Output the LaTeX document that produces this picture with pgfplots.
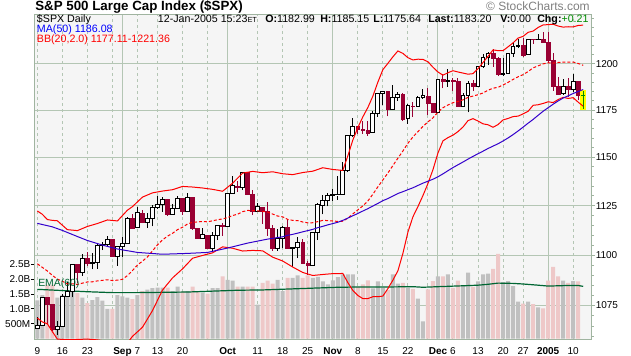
\documentclass[border=0pt]{standalone}
\usepackage{fontspec}
\setmainfont{Liberation Sans}
\usepackage{pgfplots}
\usepackage{pgfplotstable}
\pgfplotsset{compat=1.18}
\definecolor{bgcol}{RGB}{245,245,245}
\definecolor{gridcol}{RGB}{180,198,180}
\definecolor{framecol}{RGB}{160,180,160}
\definecolor{candledn}{RGB}{153,0,51}
\definecolor{bbred}{RGB}{255,0,0}
\definecolor{macol}{RGB}{51,0,204}
\definecolor{emacol}{RGB}{0,102,51}
\definecolor{volgray}{RGB}{192,192,192}
\definecolor{volpink}{RGB}{238,200,200}
\definecolor{lastgreen}{RGB}{0,140,0}
\definecolor{hilite}{RGB}{255,255,0}

\pgfplotstableread{
i O H L C
0 1063.97 1069.46 1063.97 1065.22
1 1065.22 1079.04 1065.22 1079.04
2 1079.04 1079.04 1065.92 1075.79
3 1075.79 1075.79 1062.82 1063.23
4 1063.23 1067.58 1060.72 1064.80
5 1064.80 1080.66 1064.80 1079.34
6 1079.34 1086.78 1079.34 1081.71
7 1081.71 1095.17 1078.93 1095.17
8 1095.17 1095.17 1086.28 1091.23
9 1091.23 1100.26 1089.57 1098.35
10 1098.35 1101.40 1094.73 1095.68
11 1095.68 1100.94 1092.82 1096.19
12 1096.19 1106.29 1093.24 1104.96
13 1104.96 1106.78 1102.46 1105.09
14 1105.09 1109.68 1104.62 1107.77
15 1107.77 1107.77 1099.15 1099.15
16 1099.15 1104.24 1094.72 1104.24
17 1104.24 1109.24 1099.18 1105.91
18 1105.91 1119.11 1105.60 1118.31
19 1118.31 1120.80 1113.57 1113.63
20 1113.63 1124.08 1113.63 1121.30
21 1121.30 1123.05 1116.11 1116.27
22 1116.27 1121.30 1113.62 1118.38
23 1118.38 1125.26 1114.39 1123.92
24 1123.92 1129.78 1123.35 1125.82
25 1125.82 1129.46 1121.81 1128.33
26 1128.33 1128.33 1119.82 1120.37
27 1120.37 1126.06 1120.37 1123.50
28 1123.50 1130.14 1123.50 1128.55
29 1128.55 1128.55 1120.34 1122.20
30 1122.20 1131.54 1122.20 1129.30
31 1129.30 1129.30 1112.67 1113.56
32 1113.56 1113.61 1108.05 1108.36
33 1108.36 1113.81 1108.36 1110.11
34 1110.11 1110.11 1103.24 1103.52
35 1103.52 1111.77 1101.29 1110.06
36 1110.06 1114.80 1107.42 1114.80
37 1114.80 1116.31 1109.68 1114.58
38 1114.58 1131.64 1114.58 1131.50
39 1131.50 1140.13 1131.50 1135.17
40 1135.17 1137.87 1132.03 1134.48
41 1134.48 1142.05 1132.94 1142.05
42 1142.05 1142.05 1130.50 1130.65
43 1130.65 1132.92 1120.19 1122.14
44 1122.14 1126.20 1122.14 1124.39
45 1124.39 1124.39 1115.77 1121.84
46 1121.84 1127.01 1109.63 1113.65
47 1113.65 1114.96 1102.06 1103.29
48 1103.29 1113.17 1102.14 1108.20
49 1108.20 1114.46 1103.33 1114.02
50 1114.02 1117.96 1103.15 1103.23
51 1103.23 1104.09 1094.25 1103.66
52 1103.66 1108.87 1098.47 1106.49
53 1106.49 1108.14 1095.47 1095.74
54 1095.74 1096.81 1090.29 1094.80
55 1094.81 1111.10 1094.81 1111.09
56 1111.09 1126.29 1107.43 1125.40
57 1125.34 1130.67 1120.60 1127.44
58 1127.44 1131.40 1124.62 1130.20
59 1130.20 1133.41 1127.60 1130.51
60 1130.51 1140.48 1128.12 1130.56
61 1130.54 1147.57 1130.54 1143.20
62 1143.20 1161.67 1142.34 1161.67
63 1161.67 1170.87 1160.66 1166.17
64 1166.17 1166.77 1162.32 1164.89
65 1164.89 1168.96 1162.48 1164.08
66 1164.08 1169.25 1161.31 1162.91
67 1162.91 1174.80 1162.91 1173.48
68 1173.48 1184.17 1171.43 1184.17
69 1184.17 1184.99 1177.91 1184.87
70 1184.87 1184.87 1171.75 1175.43
71 1175.43 1188.46 1175.43 1181.94
72 1181.94 1184.90 1180.15 1183.55
73 1183.55 1184.00 1169.19 1170.34
74 1170.34 1178.18 1167.89 1177.24
75 1177.24 1179.52 1171.41 1176.94
76 1176.94 1182.46 1176.94 1181.76
77 1181.76 1186.62 1181.08 1182.65
78 1182.65 1186.94 1172.37 1178.57
79 1178.57 1178.66 1173.81 1173.82
80 1173.78 1191.37 1173.78 1191.37
81 1191.37 1194.80 1186.72 1190.33
82 1190.33 1197.46 1187.71 1191.17
83 1191.17 1192.41 1185.18 1190.25
84 1190.25 1192.17 1177.07 1177.07
85 1177.07 1184.05 1177.07 1182.81
86 1182.81 1190.51 1173.79 1189.24
87 1189.24 1191.45 1185.24 1188.00
88 1188.00 1198.74 1188.00 1198.68
89 1198.68 1205.29 1197.84 1203.38
90 1203.38 1206.61 1199.44 1205.72
91 1205.72 1207.97 1198.41 1203.21
92 1203.21 1203.64 1193.36 1194.20
93 1194.20 1203.43 1193.36 1194.65
94 1194.65 1205.93 1194.65 1205.45
95 1205.45 1211.42 1203.85 1209.57
96 1209.57 1213.66 1208.71 1210.13
97 1210.13 1214.13 1203.83 1204.92
98 1204.92 1213.54 1204.92 1213.54
99 1213.54 1213.85 1210.95 1213.45
100 1213.45 1216.47 1213.41 1213.55
101 1213.55 1217.33 1211.65 1211.92
102 1211.92 1217.80 1200.32 1202.08
103 1202.08 1205.84 1185.39 1188.05
104 1188.05 1192.73 1183.72 1183.74
105 1183.74 1191.63 1183.27 1187.89
106 1187.89 1192.20 1182.16 1186.19
107 1186.19 1194.78 1184.80 1190.25
108 1190.25 1190.25 1180.28 1182.99
109 1182.99 1185.15 1175.64 1183.20
}\ohlc

\pgfplotstableread{
i U Lo
0 1122.3 1068.9
1 1120.6 1067.0
2 1117.9 1066.1
3 1117.5 1062.3
4 1117.3 1058.7
6 1112.8 1058.4
8 1112.3 1058.5
10 1114.4 1058.7
12 1115.9 1058.3
14 1117.7 1057.6
16 1117.2 1057.8
18 1122.7 1056.8
19 1124.5 1060.0
21 1129.4 1064.4
23 1131.6 1072.5
25 1132.5 1082.6
27 1133.2 1088.6
29 1134.9 1093.1
31 1134.6 1098.4
33 1134.1 1099.8
35 1133.4 1101.1
37 1132.4 1104.1
39 1136.6 1103.4
41 1141.8 1102.0
43 1142.7 1102.3
45 1142.0 1102.1
47 1142.5 1098.9
49 1141.5 1097.0
51 1141.0 1094.0
53 1142.1 1091.3
55 1142.8 1089.8
57 1144.6 1090.3
59 1143.7 1090.7
61 1143.2 1090.8
62 1150.8 1086.3
63 1159.1 1082.4
64 1165.7 1079.9
65 1171.4 1078.4
66 1176.4 1078.4
67 1182.5 1079.3
68 1190.1 1079.3
69 1196.9 1079.6
70 1200.3 1083.3
71 1203.9 1087.5
72 1207.1 1092.1
73 1205.8 1100.8
74 1203.4 1111.5
75 1202.2 1119.3
76 1202.6 1124.5
77 1202.5 1130.2
78 1201.2 1136.4
79 1198.2 1143.6
80 1195.6 1152.3
81 1193.9 1158.7
82 1195.2 1160.4
83 1196.3 1161.7
84 1195.6 1163.6
85 1195.0 1166.0
86 1194.4 1169.4
87 1194.7 1170.5
88 1197.4 1169.2
89 1200.8 1167.7
90 1204.2 1167.2
91 1207.7 1165.9
92 1207.3 1167.3
93 1207.3 1169.8
94 1209.4 1170.6
95 1211.6 1171.6
96 1214.2 1171.8
97 1215.2 1173.0
98 1217.4 1174.4
99 1218.1 1177.6
100 1220.1 1177.9
101 1221.5 1178.6
102 1221.7 1179.5
103 1221.9 1179.1
104 1220.9 1180.7
105 1220.3 1181.9
106 1220.5 1181.3
107 1220.4 1181.7
108 1221.2 1179.3
109 1221.4 1177.1
}\bands

\pgfplotstableread{
i M
0 1095.62
1 1093.82
2 1092.04
3 1089.86
4 1088.03
5 1086.95
6 1085.61
7 1085.67
8 1085.39
9 1086.00
10 1086.58
11 1086.65
12 1087.12
13 1087.36
14 1087.66
15 1087.29
16 1087.51
17 1087.88
18 1089.76
19 1092.24
20 1095.04
21 1096.91
22 1099.04
23 1102.07
24 1105.12
25 1107.57
26 1109.50
27 1110.92
28 1112.79
29 1113.98
30 1115.66
31 1116.53
32 1116.70
33 1116.95
34 1116.74
35 1117.28
36 1117.81
37 1118.24
38 1118.90
39 1119.98
40 1120.64
41 1121.93
42 1122.54
43 1122.45
44 1122.38
45 1122.06
46 1121.72
47 1120.71
48 1119.69
49 1119.28
50 1117.98
51 1117.49
52 1117.39
53 1116.67
54 1116.24
55 1116.29
56 1116.82
57 1117.46
58 1117.40
59 1117.16
60 1116.97
61 1117.03
62 1118.58
63 1120.78
64 1122.80
65 1124.91
66 1127.38
67 1130.89
68 1134.69
69 1138.23
70 1141.84
71 1145.75
72 1149.61
73 1153.34
74 1157.46
75 1160.75
76 1163.57
77 1166.33
78 1168.75
79 1170.91
80 1173.95
81 1176.31
82 1177.78
83 1178.99
84 1179.60
85 1180.53
86 1181.85
87 1182.58
88 1183.30
89 1184.23
90 1185.74
91 1186.81
92 1187.34
93 1188.55
94 1189.96
95 1191.60
96 1193.01
97 1194.13
98 1195.88
99 1197.86
100 1198.97
101 1200.05
102 1200.59
103 1200.48
104 1200.81
105 1201.07
106 1200.92
107 1201.03
108 1200.24
109 1199.24
}\mid

\pgfplotstableread{
i A
0 1116.0
3 1114.2
5 1112.4
8 1109.3
10 1107.3
13 1105.0
16 1103.0
20 1101.3
25 1100.4
30 1100.8
34 1101.3
38 1103.5
42 1106.0
46 1108.0
49 1109.17
50 1109.93
51 1110.42
52 1111.03
53 1111.68
54 1112.28
55 1112.92
56 1113.79
57 1114.44
58 1115.22
59 1115.86
60 1116.56
61 1117.50
62 1118.63
63 1119.85
64 1121.00
65 1122.29
66 1123.47
67 1124.82
68 1126.14
69 1127.56
70 1128.64
71 1129.96
72 1131.26
73 1132.19
74 1133.22
75 1134.19
76 1135.42
77 1136.60
78 1137.60
79 1138.63
80 1139.87
81 1141.41
82 1143.07
83 1144.67
84 1146.14
85 1147.59
86 1149.08
87 1150.55
88 1151.90
89 1153.26
90 1154.68
91 1155.91
92 1157.18
93 1158.63
94 1160.25
95 1162.00
96 1163.93
97 1165.97
98 1168.07
99 1170.06
100 1172.27
101 1174.43
102 1176.35
103 1178.19
104 1179.97
105 1181.51
106 1182.72
107 1183.98
108 1185.03
109 1186.08
}\maf

\pgfplotstableread{
i v
0 1.29
1 1.47
4 1.38
5 1.47
6 1.42
7 1.60
9 1.38
11 1.30
12 1.40
13 1.28
14 1.00
16 1.47
17 1.42
18 1.38
20 1.47
22 1.65
23 1.70
24 1.72
25 1.72
27 1.60
28 1.75
30 1.60
33 1.55
35 1.70
36 1.70
38 1.98
39 1.95
41 1.75
44 1.15
48 1.98
49 1.60
51 2.05
52 2.13
55 2.05
56 2.08
57 1.93
58 1.83
59 1.96
60 2.07
61 2.16
62 2.16
63 2.16
67 1.69
68 1.93
69 1.71
71 2.16
72 1.85
74 1.71
76 1.35
77 0.58
80 2.10
82 2.16
85 1.79
86 2.22
88 1.93
89 2.16
90 2.19
93 1.90
94 1.94
95 1.77
96 1.25
98 1.25
100 1.05
105 1.95
107 1.94
}\volup

\pgfplotstableread{
i v
2 1.81
3 1.81
8 1.53
10 1.20
15 1.00
19 1.33
21 1.60
26 1.72
29 1.58
31 1.75
32 1.60
34 1.52
37 2.10
40 1.75
42 1.75
43 1.75
45 1.88
46 1.95
47 1.85
50 2.05
53 2.05
54 2.13
64 1.74
65 1.83
66 1.96
70 1.63
73 1.88
75 1.68
78 1.66
79 1.94
81 2.10
83 1.71
84 1.95
87 1.74
91 2.35
92 2.85
97 1.18
99 1.16
101 1.02
102 1.95
103 2.42
104 2.10
106 1.88
108 1.93
}\voldn

\pgfplotstableread{
i e
0 1.66
5 1.62
10 1.58
15 1.55
20 1.55
25 1.56
30 1.57
35 1.60
40 1.63
45 1.64
50 1.67
55 1.70
60 1.73
65 1.74
70 1.74
75 1.75
77 1.73
80 1.75
85 1.78
88 1.80
90 1.83
92 1.87
95 1.86
97 1.84
100 1.80
102 1.77
104 1.78
106 1.79
108 1.79
109 1.76
}\ema

\newcommand{\lf}{\fontsize{8pt}{9.6pt}\selectfont}

\begin{document}
\begin{tikzpicture}[x=0.75pt,y=0.75pt]
\useasboundingbox (0,0) rectangle (631,355);
\pgfplotsset{chartgeom/.style={at={(25.725pt,11.175pt)}, anchor=south west, scale only axis,
  width=418.05pt, height=244.35pt, xmin=-0.6, xmax=110.7}}
% background, grid, price ticks, date labels
\begin{axis}[chartgeom, ymode=log, ymin=1058.3, ymax=1227.55,
  axis background/.style={fill=bgcol}, axis line style={draw=none},
  xtick={17,38,59,80,102},
  xticklabels={\textbf{Sep},\textbf{Oct},\textbf{Nov},\textbf{Dec},\textbf{2005}},
  extra x ticks={0,5,10,15,20,24,29,34,44,49,54,64,69,74,78,83,88,93,97,107},
  extra x tick labels={9,16,23,,7,13,20,,11,18,25,8,15,22,,6,13,20,27,10},
  xmajorgrids, major grid style={gridcol, line width=0.75pt},
  extra x tick style={grid=major, major grid style={gridcol, line width=0.75pt, dash pattern=on 2.25pt off 2.25pt}},
  x tick style={draw=none},
  ytick={1075,1100,1125,1150,1175,1200}, yticklabels={1075,1100,1125,1150,1175,1200},
  minor ytick={1060,1065,1070,1080,1085,1090,1095,1105,1110,1115,1120,1130,1135,1140,1145,1155,1160,1165,1170,1180,1185,1190,1195,1205,1210,1215,1220,1225},
  ymajorgrids, ytick pos=right, yticklabel pos=right, tick align=outside,
  major tick length=2.25pt, minor tick length=1.5pt,
  y tick style={framecol, line width=0.75pt},
  tick label style={font=\fontsize{7.5pt}{9pt}\selectfont},
  yticklabel style={anchor=west, inner sep=0pt, xshift=0.6pt},
  xticklabel style={anchor=north, inner sep=0pt, yshift=-3.6pt},
  /pgf/number format/assume math mode=true]
\end{axis}
% volume
\begin{axis}[chartgeom, ymin=-0.047, ymax=10.91, axis line style={draw=none},
  xtick=\empty, ytick={0.5,1,1.5,2,2.5}, yticklabels={500M,1.0B,1.5B,2.0B,2.5B},
  ytick pos=left, tick align=outside, major tick length=2.25pt,
  y tick style={black, line width=0.75pt},
  tick label style={font=\fontsize{7.5pt}{9pt}\selectfont},
  yticklabel style={anchor=east, inner sep=0pt, xshift=-0.6pt},
  /pgf/number format/assume math mode=true]
\addplot[ybar, bar width=3pt, bar shift=0pt, fill=volgray, draw=none] table[x=i, y=v] {\volup};
\addplot[ybar, bar width=3pt, bar shift=0pt, fill=volpink, draw=none] table[x=i, y=v] {\voldn};
\addplot[emacol, line width=0.9pt, no markers] table[x=i, y=e] {\ema};
\end{axis}
% price
\begin{axis}[chartgeom, ymode=log, ymin=1058.3, ymax=1227.55,
  xtick=\empty, ytick=\empty, yminorticks=false, axis line style={framecol, line width=0.75pt}]
\pgfplotsinvokeforeach{0,...,108}{
  \pgfplotstablegetelem{#1}{O}\of\ohlc \let\cO\pgfplotsretval
  \pgfplotstablegetelem{#1}{H}\of\ohlc \let\cH\pgfplotsretval
  \pgfplotstablegetelem{#1}{L}\of\ohlc \let\cL\pgfplotsretval
  \pgfplotstablegetelem{#1}{C}\of\ohlc \let\cC\pgfplotsretval
  \pgfmathsetmacro\xl{#1-0.38}
  \pgfmathsetmacro\xr{#1+0.38}
  \pgfmathtruncatemacro\up{\cC>=\cO ? 1 : 0}
  \ifnum\up=1
    \addplot[black, line width=0.75pt, no markers] coordinates {(#1,\cL) (#1,\cH)};
    \addplot[black, fill=white, line width=0.75pt, no markers] coordinates {(\xl,\cO) (\xr,\cO) (\xr,\cC) (\xl,\cC)} -- cycle;
  \else
    \addplot[candledn, line width=0.75pt, no markers] coordinates {(#1,\cL) (#1,\cH)};
    \addplot[candledn, fill=candledn, line width=0.5pt, no markers] coordinates {(\xl,\cO) (\xr,\cO) (\xr,\cC) (\xl,\cC)} -- cycle;
  \fi
}
% last (intraday) bar, highlighted
\addplot[fill=hilite, draw=none, no markers] coordinates {(108.4,1175.3) (109.55,1175.3) (109.55,1185.6) (108.4,1185.6)} -- cycle;
\addplot[lastgreen, line width=0.75pt, no markers] coordinates {(109,1175.64) (109,1185.15)};
\addplot[lastgreen, line width=0.75pt, no markers] coordinates {(108.6,1183.1) (109.4,1183.1)};
% overlays
\addplot[bbred, line width=0.75pt, no markers] table[x=i, y=U] {\bands};
\addplot[bbred, line width=0.75pt, no markers] table[x=i, y=Lo] {\bands};
\addplot[bbred, line width=0.75pt, no markers, dash pattern=on 2.25pt off 1.5pt] table[x=i, y=M] {\mid};
\addplot[macol, line width=0.75pt, no markers] table[x=i, y=A] {\maf};
\end{axis}
% texts
\node[anchor=base west, inner sep=0pt, font=\fontsize{10pt}{12pt}\selectfont\bfseries] at (35,345) {S\&P 500 Large Cap Index (\$SPX)};
\node[anchor=base east, inner sep=0pt, font=\fontsize{9pt}{11pt}\selectfont, text=gray] at (590,344.3) {\textcopyright{} StockCharts.com};
\node[anchor=base west, inner sep=0pt, font=\lf] at (36.7,332.6) {\$SPX Daily};
\node[anchor=base west, inner sep=0pt, font=\lf] at (157.7,332.6) {12-Jan-2005 15:23{\fontsize{5.5pt}{6pt}\selectfont ET}};
\node[anchor=base west, inner sep=0pt, font=\lf] at (265,332.6) {\textbf{O:}1182.99};
\node[anchor=base west, inner sep=0pt, font=\lf] at (320,332.6) {\textbf{H:}1185.15};
\node[anchor=base west, inner sep=0pt, font=\lf] at (373,332.6) {\textbf{L:}1175.64};
\node[anchor=base west, inner sep=0pt, font=\lf] at (428,332.6) {\textbf{Last:}1183.20};
\node[anchor=base west, inner sep=0pt, font=\lf] at (500,332.6) {\textbf{V:}0.00};
\node[anchor=base west, inner sep=0pt, font=\lf] at (537,332.6) {\textbf{Chg:}\textcolor{lastgreen}{+0.21}};
\node[anchor=base west, inner sep=0pt, font=\lf, text=blue] at (36.7,322.6) {MA(50) 1186.08};
\node[anchor=base west, inner sep=0pt, font=\lf, text=red] at (36.7,312.4) {BB(20,2.0) 1177.11-1221.36};
\node[anchor=base west, inner sep=0pt, font=\fontsize{7.8pt}{9pt}\selectfont, text=emacol] at (38,68.8) {EMA(60)};
\end{tikzpicture}
\end{document}
